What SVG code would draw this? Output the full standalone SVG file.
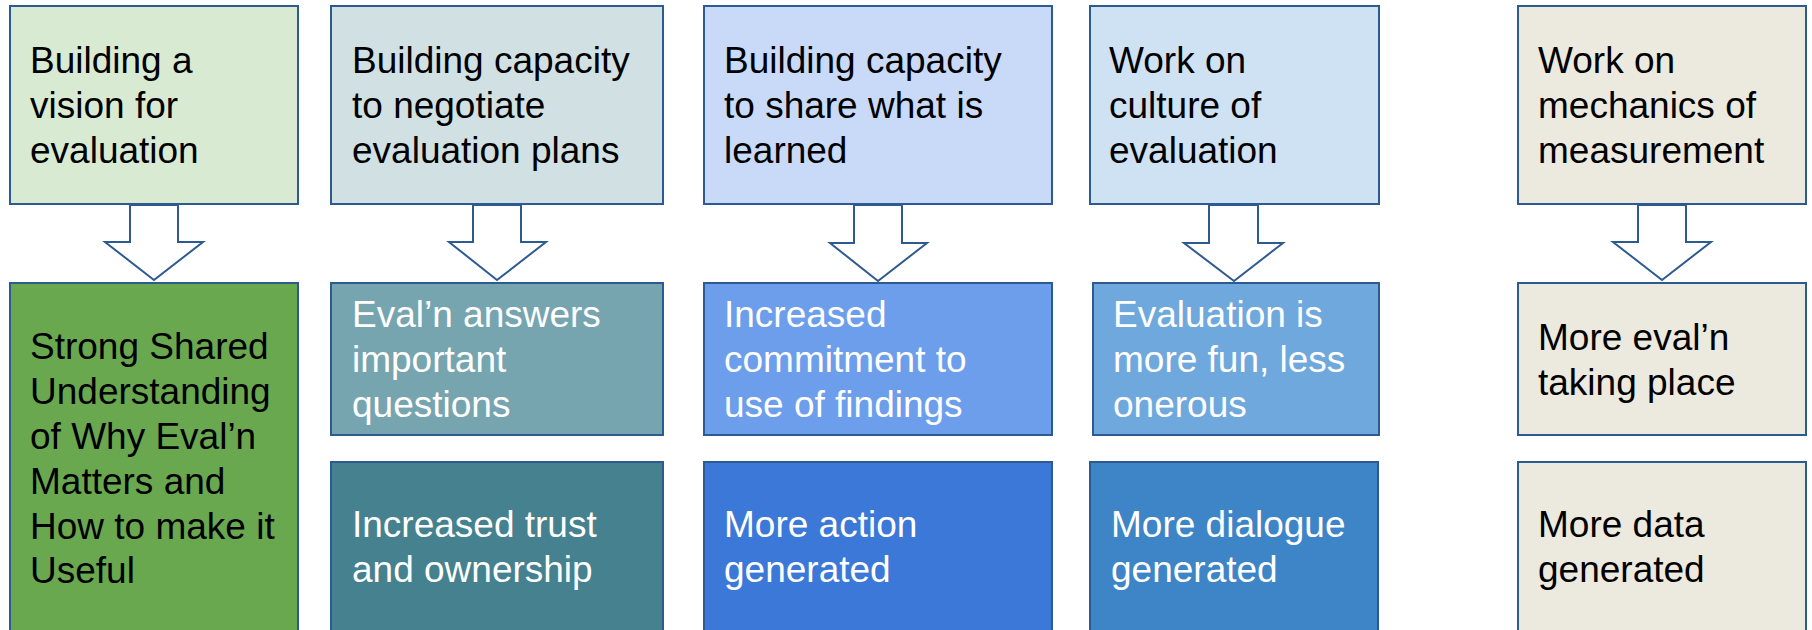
<svg xmlns="http://www.w3.org/2000/svg" width="1812" height="630" viewBox="0 0 1812 630">
<style>
.box{stroke:#2E5A92;stroke-width:2}
.arr{fill:#FFFFFF;stroke:#2E5A92;stroke-width:2;stroke-linejoin:miter}
text{font-family:"Liberation Sans",Arial,sans-serif;font-size:37px}
.dk{fill:#000000}
.wt{fill:#FFFFFF}
</style>
<rect width="1812" height="630" fill="#FFFFFF"/>
<g id="n1">
<rect class="box" x="10" y="6" width="288" height="198" fill="#D9EAD3"/>
<text class="dk"><tspan x="30" y="73">Building a</tspan><tspan x="30" y="118">vision for</tspan><tspan x="30" y="163">evaluation</tspan></text>
</g>
<g id="n2">
<rect class="box" x="331" y="6" width="332" height="198" fill="#D0E0E3"/>
<text class="dk"><tspan x="352" y="73">Building capacity</tspan><tspan x="352" y="118">to negotiate</tspan><tspan x="352" y="163">evaluation plans</tspan></text>
</g>
<g id="n3">
<rect class="box" x="704" y="6" width="348" height="198" fill="#C9DAF8"/>
<text class="dk"><tspan x="724" y="73">Building capacity</tspan><tspan x="724" y="118">to share what is</tspan><tspan x="724" y="163">learned</tspan></text>
</g>
<g id="n4">
<rect class="box" x="1090" y="6" width="289" height="198" fill="#CFE2F3"/>
<text class="dk"><tspan x="1109" y="73">Work on</tspan><tspan x="1109" y="118">culture of</tspan><tspan x="1109" y="163">evaluation</tspan></text>
</g>
<g id="n5">
<rect class="box" x="1518" y="6" width="288" height="198" fill="#ECE9DF"/>
<text class="dk"><tspan x="1538" y="73">Work on</tspan><tspan x="1538" y="118">mechanics of</tspan><tspan x="1538" y="163">measurement</tspan></text>
</g>
<g id="n6">
<rect class="box" x="10" y="283" width="288" height="360" fill="#6AA84F"/>
<text class="dk"><tspan x="30" y="359">Strong Shared</tspan><tspan x="30" y="404">Understanding</tspan><tspan x="30" y="449">of Why Eval’n</tspan><tspan x="30" y="494">Matters and</tspan><tspan x="30" y="539">How to make it</tspan><tspan x="30" y="583">Useful</tspan></text>
</g>
<g id="n7">
<rect class="box" x="331" y="283" width="332" height="152" fill="#76A5AF"/>
<text class="wt"><tspan x="352" y="327">Eval’n answers</tspan><tspan x="352" y="372">important</tspan><tspan x="352" y="417">questions</tspan></text>
</g>
<g id="n8">
<rect class="box" x="331" y="462" width="332" height="180" fill="#45818E"/>
<text class="wt"><tspan x="352" y="537">Increased trust</tspan><tspan x="352" y="582">and ownership</tspan></text>
</g>
<g id="n9">
<rect class="box" x="704" y="283" width="348" height="152" fill="#6D9EEB"/>
<text class="wt"><tspan x="724" y="327">Increased</tspan><tspan x="724" y="372">commitment to</tspan><tspan x="724" y="417">use of findings</tspan></text>
</g>
<g id="n10">
<rect class="box" x="704" y="462" width="348" height="180" fill="#3C78D8"/>
<text class="wt"><tspan x="724" y="537">More action</tspan><tspan x="724" y="582">generated</tspan></text>
</g>
<g id="n11">
<rect class="box" x="1093" y="283" width="286" height="152" fill="#6FA8DC"/>
<text class="wt"><tspan x="1113" y="327">Evaluation is</tspan><tspan x="1113" y="372">more fun, less</tspan><tspan x="1113" y="417">onerous</tspan></text>
</g>
<g id="n12">
<rect class="box" x="1090" y="462" width="288" height="180" fill="#3D85C6"/>
<text class="wt"><tspan x="1111" y="537">More dialogue</tspan><tspan x="1111" y="582">generated</tspan></text>
</g>
<g id="n13">
<rect class="box" x="1518" y="283" width="288" height="152" fill="#ECE9DF"/>
<text class="dk"><tspan x="1538" y="350">More eval’n</tspan><tspan x="1538" y="395">taking place</tspan></text>
</g>
<g id="n14">
<rect class="box" x="1518" y="462" width="288" height="180" fill="#ECE9DF"/>
<text class="dk"><tspan x="1538" y="537">More data</tspan><tspan x="1538" y="582">generated</tspan></text>
</g>
<g id="connectors">
<polygon class="arr" points="130,205 178,205 178,242 203,242 154,280 105,242 130,242"/>
<polygon class="arr" points="473,205 521,205 521,242 546,242 497,280 449,242 473,242"/>
<polygon class="arr" points="854,205 902,205 902,243 927,243 878,281 830,243 854,243"/>
<polygon class="arr" points="1209,205 1258,205 1258,243 1283,243 1234,281 1184,243 1209,243"/>
<polygon class="arr" points="1638,205 1686,205 1686,242 1711,242 1662,280 1613,242 1638,242"/>
</g>
</svg>
